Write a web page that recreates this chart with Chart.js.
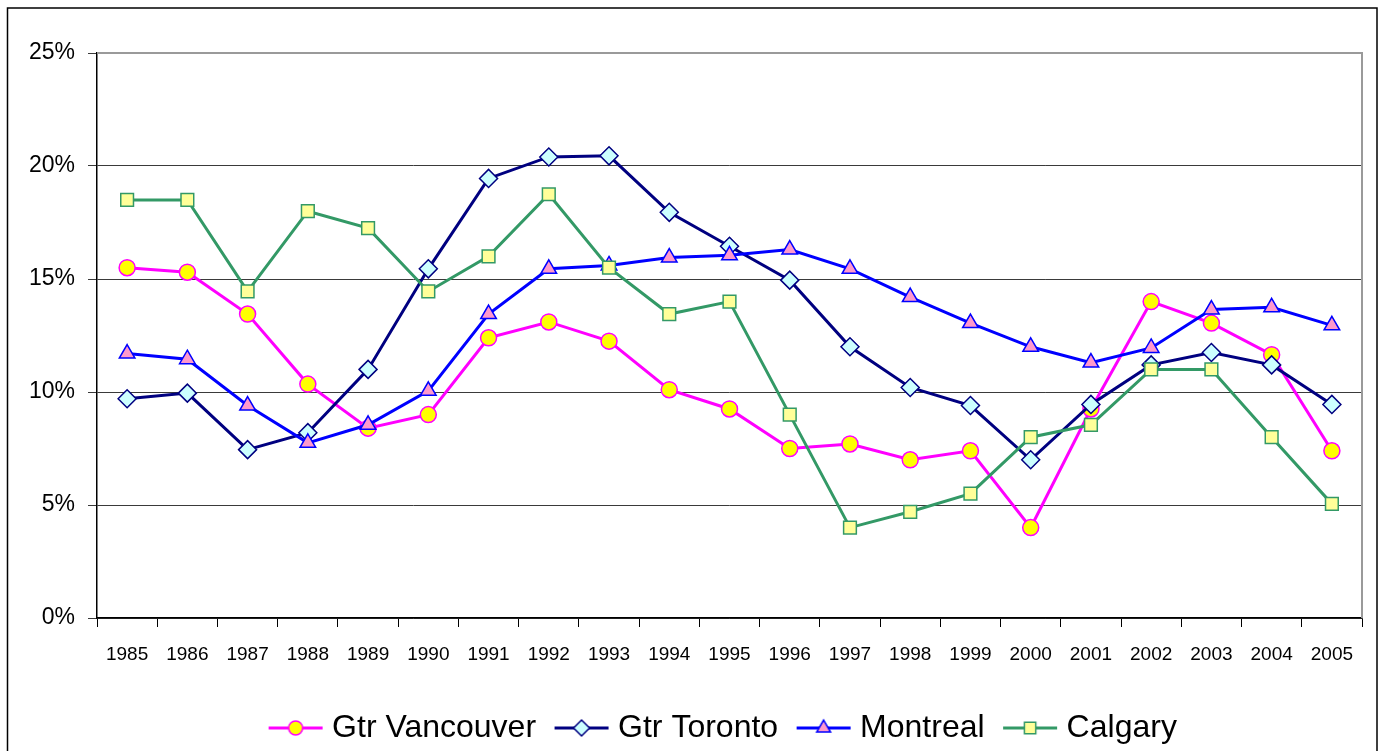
<!DOCTYPE html>
<html lang="en">
<head>
  <meta charset="UTF-8">
  <title>Metro growth rates 1985-2005</title>
  <script src="https://cdn.jsdelivr.net/npm/chart.js"></script>
  <style>
    body { margin: 0; background: #ffffff; }
    .chart-container { position: relative; width: 1383px; height: 751px; }
  </style>
</head>
<body>
  <div class="chart-container">
    <canvas id="lineChart"></canvas>
  </div>

  <script>
    // chart data
    const years = ['1985', '1986', '1987', '1988', '1989', '1990', '1991', '1992', '1993', '1994', '1995',
                   '1996', '1997', '1998', '1999', '2000', '2001', '2002', '2003', '2004', '2005'];
    const vancouver = [15.5, 15.3, 13.45, 10.35, 8.4, 9.0, 12.4, 13.1, 12.25, 10.1, 9.25,
                       7.5, 7.7, 7.0, 7.4, 4.0, 9.25, 14.0, 13.05, 11.65, 7.4];
    const toronto = [9.7, 9.95, 7.45, 8.2, 11.0, 15.45, 19.45, 20.4, 20.45, 17.95, 16.45,
                     14.95, 12.0, 10.2, 9.4, 7.0, 9.45, 11.2, 11.75, 11.2, 9.45];
    const montreal = [11.7, 11.45, 9.4, 7.75, 8.55, 10.05, 13.45, 15.45, 15.6, 15.95, 16.05,
                      16.3, 15.45, 14.2, 13.05, 12.0, 11.3, 11.95, 13.65, 13.75, 12.95];
    const calgary = [18.5, 18.5, 14.45, 18.0, 17.25, 14.45, 16.0, 18.75, 15.5, 13.45, 14.0,
                     9.0, 4.0, 4.7, 5.5, 8.0, 8.55, 11.0, 11.0, 8.0, 5.05];
    const yTickLabels = ['0%', '5%', '10%', '15%', '20%', '25%'];

    const FONT = '"Liberation Sans", Arial, sans-serif';

    const series = [
      { label: 'Gtr Vancouver', data: vancouver, line: '#ff00ff', fill: '#ffff00', style: 'circle', radius: 8, legendRadius: 7 },
      { label: 'Gtr Toronto', data: toronto, line: '#000080', fill: '#ccffff', style: 'rectRot', radius: 9, legendRadius: 8 },
      { label: 'Montreal', data: montreal, line: '#0000ff', fill: '#ff99cc', style: 'triangle', radius: 9, legendRadius: 8 },
      { label: 'Calgary', data: calgary, line: '#339966', fill: '#ffff99', style: 'rect', radius: 9, legendRadius: 8 },
    ];

    // little line+marker pictures for the legend
    function legendIcon(s) {
      const c = document.createElement('canvas');
      c.width = 56; c.height = 22;
      const g = c.getContext('2d');
      g.strokeStyle = s.line;
      g.lineWidth = 3;
      g.beginPath(); g.moveTo(1, 11); g.lineTo(55, 11); g.stroke();
      g.fillStyle = s.fill;
      g.strokeStyle = s.line;
      g.lineWidth = 1.5;
      Chart.helpers.drawPoint(g, { pointStyle: s.style, radius: s.legendRadius, borderWidth: 1.5 }, 28, 11);
      return c;
    }
    const icons = series.map(legendIcon);

    // frame round the whole picture + grey top/right edge of the plot
    const framePlugin = {
      id: 'frame',
      afterLayout(chart) {
        // the original legend row sits a bit right of centre and slightly lower
        chart.legend.left += 45;
        chart.legend.right += 45;
        chart.legend.top += 3;
        chart.legend.bottom += 3;
      },
      afterDraw(chart) {
        const { ctx, chartArea } = chart;
        ctx.save();
        ctx.strokeStyle = '#000000';
        ctx.lineWidth = 1.5;
        ctx.beginPath();
        ctx.moveTo(7.5, 760); ctx.lineTo(7.5, 8); ctx.lineTo(1377, 8); ctx.lineTo(1377, 760);
        ctx.stroke();
        ctx.strokeStyle = '#9a9a9a';
        ctx.lineWidth = 2;
        ctx.beginPath();
        ctx.moveTo(chartArea.left, chartArea.top); ctx.lineTo(chartArea.right, chartArea.top);
        ctx.lineTo(chartArea.right, chartArea.bottom);
        ctx.stroke();
        ctx.restore();
      }
    };

    const ctx = document.getElementById('lineChart').getContext('2d');
    const lineChart = new Chart(ctx, {
      type: 'line',
      data: {
        labels: years,
        datasets: series.map((s, i) => ({
          label: s.label,
          data: s.data,
          borderColor: s.line,
          backgroundColor: s.fill,
          borderWidth: 3,
          tension: 0,
          pointStyle: s.style,
          pointRadius: s.radius,
          pointHoverRadius: s.radius,
          pointBackgroundColor: s.fill,
          pointBorderColor: s.line,
          pointBorderWidth: 1.5,
          order: series.length - i,
        })),
      },
      options: {
        responsive: true,
        maintainAspectRatio: false,
        animation: false,
        layout: { padding: { top: 53, right: 21, left: 0, bottom: 0 } },
        plugins: {
          tooltip: { enabled: false },
          legend: {
            position: 'bottom',
            labels: {
              usePointStyle: true,
              pointStyleWidth: 41,
              padding: 25,
              color: '#000000',
              font: { family: FONT, size: 32 },
              sort: (a, b) => a.datasetIndex - b.datasetIndex,
              generateLabels(chart) {
                const items = Chart.defaults.plugins.legend.labels.generateLabels(chart);
                return items.map(it => ({ ...it, pointStyle: icons[it.datasetIndex] }));
              },
            },
          },
        },
        scales: {
          x: {
            offset: true,
            afterFit(scale) { scale.height = 66; },
            grid: { drawOnChartArea: false, drawTicks: true, tickLength: 9, offset: true, color: '#000000' },
            border: { color: '#000000', width: 1.5 },
            ticks: { color: '#000000', padding: 16, maxRotation: 0, autoSkip: false, font: { family: FONT, size: 19 } },
          },
          y: {
            min: 0,
            max: 25,
            afterFit(scale) { scale.width = 97; },
            grid: { color: '#3a3a3a', lineWidth: 1, tickLength: 9 },
            border: { color: '#000000', width: 1.5 },
            ticks: {
              stepSize: 5,
              color: '#000000',
              padding: 13,
              font: { family: FONT, size: 23 },
              callback: (v) => yTickLabels[v / 5],
            },
          },
        },
      },
      plugins: [framePlugin],
    });
  </script>
</body>
</html>
